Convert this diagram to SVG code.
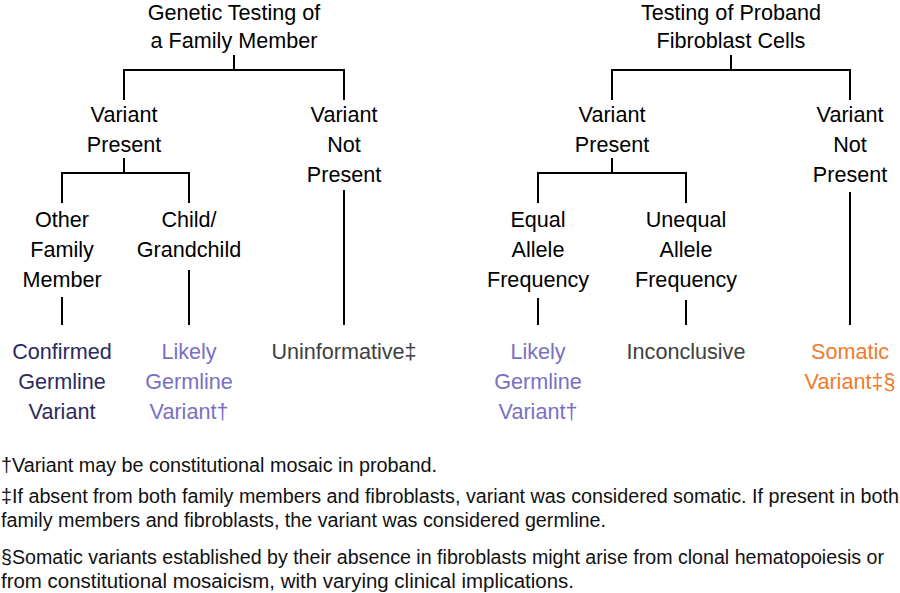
<svg xmlns="http://www.w3.org/2000/svg" width="900" height="593" viewBox="0 0 900 593">
<style>
text{font-family:"Liberation Sans",Arial,sans-serif;font-size:21.6px;text-anchor:middle;fill:#000}
.navy{fill:#2c2a5e}
.lav{fill:#7a6fc3}
.gray{fill:#404040}
.orange{fill:#f27a2b}
.fn{font-size:19.5px;text-anchor:start;fill:#111}
.c line,.c path{stroke:#000;stroke-width:2;fill:none}
</style>
<rect width="900" height="593" fill="#fff"/>
<g id="connectors" class="c">
<path d="M234 55V70M124 100V70H344V100"/>
<path d="M124 158V173M62 203V173H189V203"/>
<line x1="344" y1="190" x2="344" y2="325"/>
<line x1="62" y1="297" x2="62" y2="325"/>
<line x1="189" y1="270" x2="189" y2="325"/>
<path d="M731 55V70M612 100V70H850V100"/>
<path d="M612 158V173M538 203V173H686V203"/>
<line x1="850" y1="192" x2="850" y2="325"/>
<line x1="538" y1="298" x2="538" y2="325"/>
<line x1="686" y1="300" x2="686" y2="325"/>
</g>
<g id="root-left"><text x="234" y="20">Genetic Testing of</text><text x="234" y="48">a Family Member</text></g>
<g id="l-present"><text x="124" y="122">Variant</text><text x="124" y="152">Present</text></g>
<g id="l-notpresent"><text x="344" y="122">Variant</text><text x="344" y="152">Not</text><text x="344" y="182">Present</text></g>
<g id="l-other"><text x="62" y="227">Other</text><text x="62" y="257">Family</text><text x="62" y="287">Member</text></g>
<g id="l-child"><text x="189" y="227">Child/</text><text x="189" y="257">Grandchild</text></g>
<g id="l-confirmed"><text class="navy" x="62" y="359">Confirmed</text><text class="navy" x="62" y="389">Germline</text><text class="navy" x="62" y="419">Variant</text></g>
<g id="l-likely"><text class="lav" x="189" y="359">Likely</text><text class="lav" x="189" y="389">Germline</text><text class="lav" x="189" y="419">Variant†</text></g>
<g id="l-uninformative"><text class="gray" x="344" y="359">Uninformative‡</text></g>
<g id="root-right"><text x="731" y="20">Testing of Proband</text><text x="731" y="48">Fibroblast Cells</text></g>
<g id="r-present"><text x="612" y="122">Variant</text><text x="612" y="152">Present</text></g>
<g id="r-notpresent"><text x="850" y="122">Variant</text><text x="850" y="152">Not</text><text x="850" y="182">Present</text></g>
<g id="r-equal"><text x="538" y="227">Equal</text><text x="538" y="257">Allele</text><text x="538" y="287">Frequency</text></g>
<g id="r-unequal"><text x="686" y="227">Unequal</text><text x="686" y="257">Allele</text><text x="686" y="287">Frequency</text></g>
<g id="r-likely"><text class="lav" x="538" y="359">Likely</text><text class="lav" x="538" y="389">Germline</text><text class="lav" x="538" y="419">Variant†</text></g>
<g id="r-inconclusive"><text class="gray" x="686" y="359">Inconclusive</text></g>
<g id="r-somatic"><text class="orange" x="850" y="359">Somatic</text><text class="orange" x="850" y="389">Variant‡§</text></g>
<g id="footnotes">
<text class="fn" x="1" y="472" textLength="436" lengthAdjust="spacingAndGlyphs">†Variant may be constitutional mosaic in proband.</text>
<text class="fn" x="1" y="503" textLength="898" lengthAdjust="spacingAndGlyphs">‡If absent from both family members and fibroblasts, variant was considered somatic. If present in both</text>
<text class="fn" x="1" y="527" textLength="605" lengthAdjust="spacingAndGlyphs">family members and fibroblasts, the variant was considered germline.</text>
<text class="fn" x="1" y="564" textLength="883" lengthAdjust="spacingAndGlyphs">§Somatic variants established by their absence in fibroblasts might arise from clonal hematopoiesis or</text>
<text class="fn" x="1" y="588" textLength="573" lengthAdjust="spacingAndGlyphs">from constitutional mosaicism, with varying clinical implications.</text>
</g>
</svg>
